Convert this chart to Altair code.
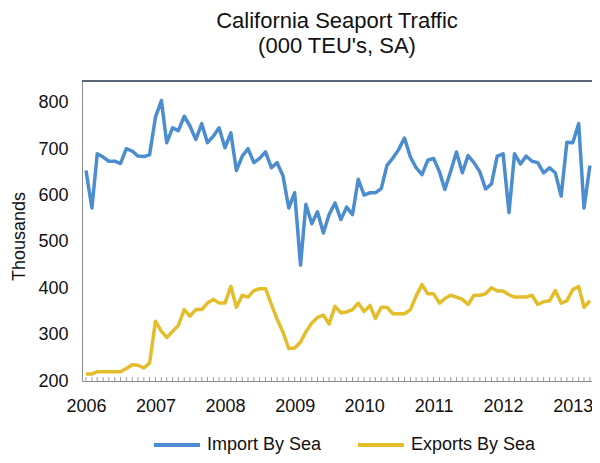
import altair as alt
import pandas as pd

# ---- data ----
months = pd.date_range("2006-01-01", periods=88, freq="MS").strftime("%Y-%m-%dT00:00:00").tolist()

imports = [
    654, 573, 690, 683, 674, 674, 669, 701, 696, 685, 684, 688,   # 2006
    769, 805, 714, 746, 740, 771, 750, 721, 755, 714, 728, 746,   # 2007
    703, 735, 654, 685, 701, 671, 680, 694, 660, 671, 642, 573,   # 2008
    606, 450, 581, 539, 565, 519, 559, 584, 548, 575, 559, 635,   # 2009
    601, 606, 606, 615, 665, 681, 699, 724, 683, 660, 645, 676,   # 2010
    680, 651, 613, 653, 694, 649, 686, 671, 651, 614, 625, 685,   # 2011
    690, 563, 690, 668, 685, 674, 671, 649, 660, 649, 599, 715,   # 2012
    714, 755, 573, 665,                                           # 2013
]

exports = [
    215, 215, 220, 220, 220, 220, 220, 227, 235, 234, 228, 239,   # 2006
    329, 307, 294, 307, 320, 354, 340, 354, 354, 368, 376, 368,   # 2007
    368, 404, 359, 385, 381, 395, 399, 399, 365, 333, 305, 270,   # 2008
    271, 284, 306, 325, 337, 342, 323, 361, 347, 349, 354, 368,   # 2009
    350, 363, 335, 359, 359, 345, 345, 345, 354, 383, 408, 388,   # 2010
    388, 368, 378, 385, 381, 376, 365, 385, 385, 388, 401, 394,   # 2011
    394, 386, 381, 381, 381, 385, 365, 371, 373, 395, 368, 373,   # 2012
    397, 404, 359, 373,                                           # 2013
]

series_names = ["Import By Sea", "Exports By Sea"]
series_colors = ["#4c8dcf", "#e3bd2a"]
y_ticks = [200, 300, 400, 500, 600, 700, 800]
title_lines = ["California Seaport Traffic", "(000 TEU's, SA)"]
y_title = "Thousands"

df = pd.concat([
    pd.DataFrame({"date": months, "value": imports, "series": series_names[0]}),
    pd.DataFrame({"date": months, "value": exports, "series": series_names[1]}),
])
tick_df = pd.DataFrame({"date": months})

FONT = "Liberation Sans"
W, H = 510, 300

x_scale = alt.Scale(domain=[alt.DateTime(year=2005, month=12, date=11),
                            alt.DateTime(year=2013, month=4, date=12)])
y_scale = alt.Scale(domain=[200, 847], nice=False, zero=False)

lines = alt.Chart(df).mark_line(strokeWidth=3.5, strokeJoin="round").encode(
    x=alt.X("date:T", scale=x_scale,
            axis=alt.Axis(title=None, tickCount=alt.TimeIntervalStep(interval="year", step=1),
                          format="%Y", labelFontSize=18, labelFont=FONT, labelColor="#111",
                          labelPadding=16, ticks=False, tickSize=0, grid=False,
                          domainColor="#8c8c8c", labelFlush=False, labelOverlap=False)),
    y=alt.Y("value:Q", scale=y_scale,
            axis=alt.Axis(values=y_ticks, title=y_title, titleFontSize=18, titleFont=FONT,
                          titleFontWeight="normal", titleColor="#111",
                          titleX=-63, titleY=155, titleAngle=270, titleAlign="center",
                          titleBaseline="middle",
                          labelFontSize=18, labelFont=FONT, labelColor="#111", labelPadding=14,
                          ticks=False, tickSize=0, gridColor="#a6a6a6", domainColor="#8c8c8c")),
    color=alt.Color("series:N", sort=series_names,
                    scale=alt.Scale(domain=series_names, range=series_colors),
                    legend=alt.Legend(title=None, orient="none", legendX=70, legendY=339,
                                      direction="horizontal", symbolType="stroke",
                                      symbolSize=2116, symbolStrokeWidth=4,
                                      labelFontSize=18, labelFont=FONT, labelColor="#111",
                                      labelOffset=5, columnPadding=28, padding=0)),
)

month_ticks = alt.Chart(tick_df).mark_rule(color="#9a9a9a", strokeWidth=1).encode(
    x=alt.X("date:T", scale=x_scale),
    y=alt.datum(200),
    y2=alt.datum(208.5),
)

top_border = alt.Chart(tick_df.head(1)).mark_rule(color="#27344d", strokeWidth=1.3).encode(
    x=alt.value(0), x2=alt.value(W), y=alt.value(0),
)

chart = alt.layer(month_ticks, top_border, lines).properties(
    width=W,
    height=H,
    title=alt.Title(title_lines, fontSize=22, fontWeight="normal", font=FONT, color="#111",
                    anchor="middle", offset=22, lineHeight=25),
    autosize=alt.AutoSizeParams(type="none"),
    padding={"left": 74, "top": 73, "right": 0, "bottom": 73},
).configure_view(strokeWidth=0)

chart.save("out.html", embed_options={"renderer": "svg", "actions": False})
